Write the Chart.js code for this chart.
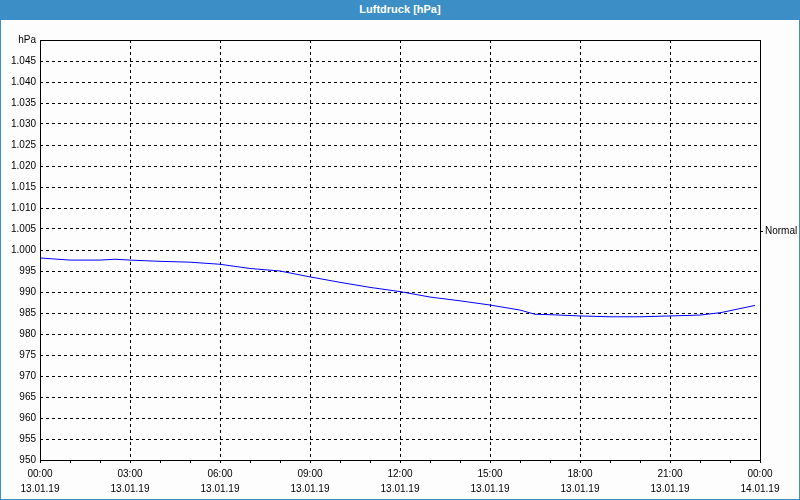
<!DOCTYPE html>
<html>
<head>
<meta charset="utf-8">
<script src="https://cdn.jsdelivr.net/npm/chart.js@4"></script>
<style>
  body { margin: 0; background: #fcfdfc; }
  #wrap { position: relative; width: 800px; height: 500px; }
  #chart { position: absolute; left: 0; top: 0; }
  #bar { position: absolute; left: 0; top: 0; width: 800px; height: 20px; background: #3c8fc6;
         color: #fff; font: bold 11px "Liberation Sans", sans-serif; text-align: center; line-height: 18px; }
  #frame { position: absolute; left: 0; top: 0; width: 800px; height: 500px; box-sizing: border-box;
           border: 1px solid #3c8fc6; pointer-events: none; }
</style>
</head>
<body>
<div id="wrap">
  <canvas id="chart" width="800" height="500"></canvas>
  <div id="bar">Luftdruck [hPa]</div>
  <div id="frame"></div>
</div>
<script>
// Stunden ab 13.01.19 00:00 und Luftdruck in hPa
const hours = [0, 1, 2, 2.5, 3, 4, 5, 6, 7, 8, 9, 10, 11, 12, 13, 14, 15, 16, 16.5, 17, 18, 19, 20, 21, 22, 22.7, 23.3, 23.83];
const pressure = [998.1, 997.6, 997.6, 997.8, 997.6, 997.3, 997.1, 996.6, 995.6, 995.0, 993.6, 992.3, 991.1, 990.1,
                  988.8, 987.9, 986.9, 985.7, 984.7, 984.6, 984.3, 984.1, 984.1, 984.3, 984.5, 985.1, 986.0, 986.8];
const timeLabels = ['00:00', '03:00', '06:00', '09:00', '12:00', '15:00', '18:00', '21:00', '00:00'];
const dateLabels = ['13.01.19', '13.01.19', '13.01.19', '13.01.19', '13.01.19', '13.01.19', '13.01.19', '13.01.19', '14.01.19'];
const normalValue = 1004.4;

const tickFont = { family: '"Liberation Sans", sans-serif', size: 10 };

// rahmen um den plotbereich
const framePlugin = {
    id: 'frame',
    afterDraw(chart) {
        const a = chart.chartArea;
        const ctx = chart.ctx;
        ctx.save();
        ctx.strokeStyle = '#000';
        ctx.lineWidth = 1;
        ctx.strokeRect(a.left + 0.5, a.top + 0.5, a.right - a.left, a.bottom - a.top);
        ctx.restore();
    }
};

new Chart(document.getElementById('chart'), {
    type: 'line',
    data: {
        datasets: [{
            data: hours.map((h, i) => ({ x: h, y: pressure[i] })),
            borderColor: '#0000ff',
            borderWidth: 1,
            pointRadius: 0,
            tension: 0,
            fill: false
        }]
    },
    options: {
        responsive: false,
        animation: false,
        layout: { padding: { top: 40, left: 0, right: 0, bottom: 0 } },
        plugins: { legend: { display: false }, tooltip: { enabled: false } },
        scales: {
            x: {
                type: 'linear',
                min: 0,
                max: 24,
                afterFit(scale) { scale.height = 40; },
                border: { display: false, dash: [3, 3] },
                grid: {
                    color: (c) => (c.tick && c.tick.value % 3 === 0) ? '#000' : 'rgba(0,0,0,0)',
                    tickColor: '#000',
                    tickLength: 3,
                    lineWidth: 1
                },
                ticks: {
                    stepSize: 1,
                    autoSkip: false,
                    maxRotation: 0,
                    padding: 4,
                    color: '#000',
                    font: { family: tickFont.family, size: 10, lineHeight: 1.5 },
                    callback: (v) => v % 3 === 0 ? [timeLabels[v / 3], dateLabels[v / 3]] : ''
                }
            },
            y: {
                position: 'left',
                min: 950,
                max: 1050,
                afterFit(scale) { scale.width = 40; },
                border: { display: false, dash: [3, 3] },
                grid: { color: '#000', lineWidth: 1, drawTicks: false },
                ticks: {
                    stepSize: 5,
                    padding: 4,
                    color: '#000',
                    font: tickFont,
                    callback: (v) => {
                        if (v === 1050) return 'hPa';
                        if (v >= 1000) return '1.' + String(v - 1000).padStart(3, '0');
                        return String(v);
                    }
                }
            },
            normal: {
                position: 'right',
                min: 950,
                max: 1050,
                afterFit(scale) { scale.width = 40; },
                afterBuildTicks(scale) { scale.ticks = [{ value: normalValue }]; },
                border: { display: false },
                grid: { drawOnChartArea: false, tickColor: '#000', tickLength: 3 },
                ticks: {
                    padding: 2,
                    color: '#000',
                    font: tickFont,
                    callback: () => 'Normal'
                }
            }
        }
    },
    plugins: [framePlugin]
});
</script>
</body>
</html>
